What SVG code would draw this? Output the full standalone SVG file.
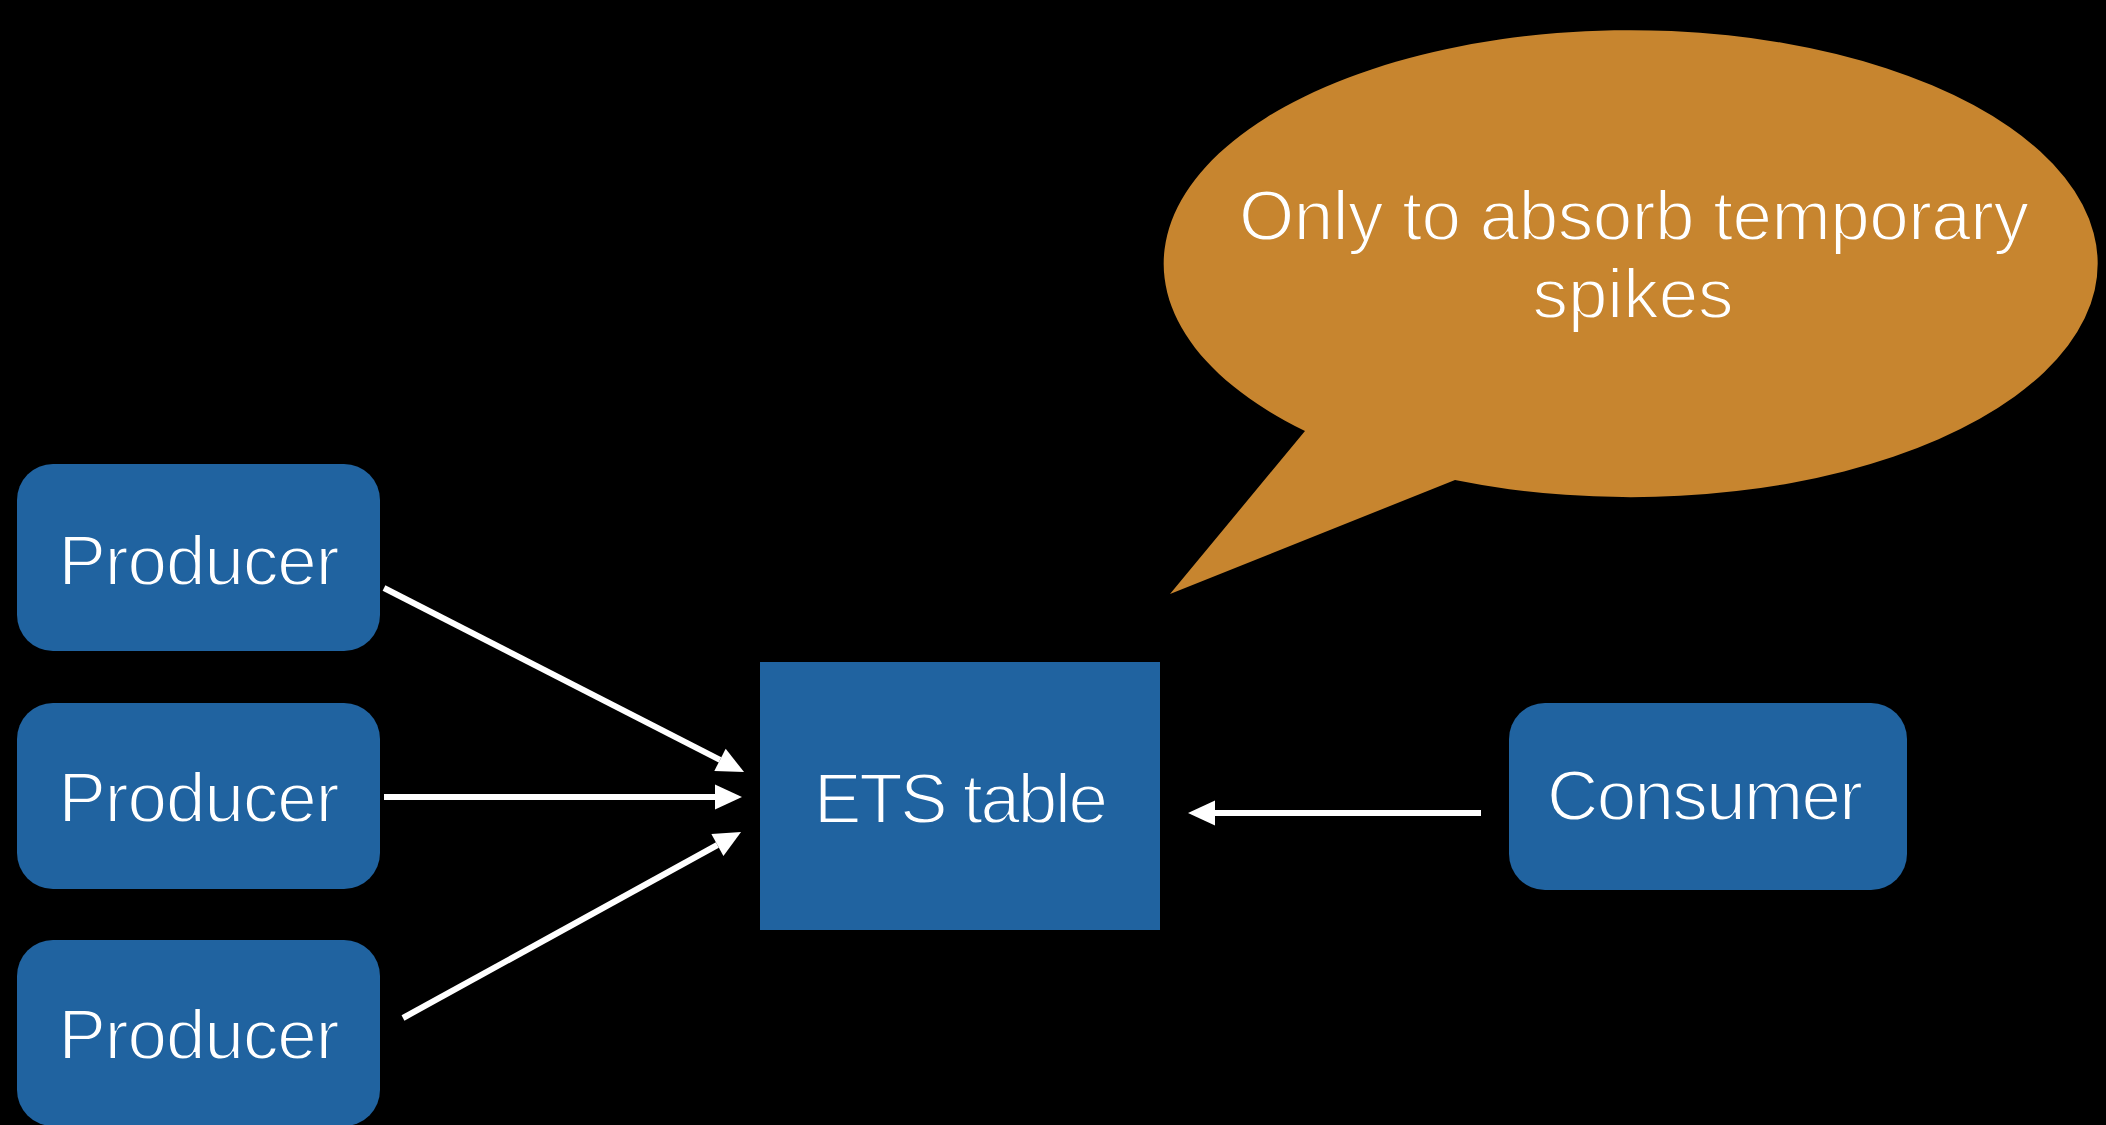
<svg xmlns="http://www.w3.org/2000/svg" width="2106" height="1125" viewBox="0 0 2106 1125">
  <style>
    .box { fill: #2063a0; }
    .bubble { fill: #c7852f; }
    .label { fill: #ffffff; font-family: "Liberation Sans", Arial, sans-serif; font-size: 71px; text-anchor: middle; stroke-width: 1.8; }
    .on-box { stroke: #2063a0; }
    .on-bubble { stroke: #c7852f; }
    .link { stroke: #ffffff; stroke-width: 6; fill: none; marker-end: url(#head); }
  </style>
  <defs>
    <marker id="head" markerUnits="userSpaceOnUse" viewBox="0 -12 26 24" refX="0" refY="0" markerWidth="26" markerHeight="24" orient="auto" overflow="visible">
      <path d="M0,-12.5 L27,0 L0,12.5 Z" fill="#ffffff"/>
    </marker>
  </defs>

  <rect width="2106" height="1125" fill="#000000"/>

  <!-- speech bubble: ellipse with a tail pointing down-left -->
  <g id="note">
    <path class="bubble" d="M1305,431 A467,233.5 0 1 1 1455,480 L1170,594 Z"/>
    <text class="label on-bubble" x="1634" y="240" textLength="790">Only to absorb temporary</text>
    <text class="label on-bubble" x="1633" y="318">spikes</text>
  </g>

  <g id="producer1">
    <rect class="box" x="17" y="464" width="363" height="187" rx="36" ry="36"/>
    <text class="label on-box" x="199" y="585" textLength="281">Producer</text>
  </g>
  <g id="producer2">
    <rect class="box" x="17" y="703" width="363" height="186" rx="36" ry="36"/>
    <text class="label on-box" x="199" y="822" textLength="281">Producer</text>
  </g>
  <g id="producer3">
    <rect class="box" x="17" y="940" width="363" height="186" rx="36" ry="36"/>
    <text class="label on-box" x="199" y="1059" textLength="281">Producer</text>
  </g>

  <g id="ets">
    <rect class="box" x="760" y="662" width="400" height="268"/>
    <text class="label on-box" x="961" y="823" textLength="294">ETS table</text>
  </g>

  <g id="consumer">
    <rect class="box" x="1509" y="703" width="398" height="187" rx="36" ry="36"/>
    <text class="label on-box" x="1705" y="820" textLength="316">Consumer</text>
  </g>

  <g id="connectors">
    <line class="link" x1="384" y1="588" x2="720" y2="759.8"/>
    <line class="link" x1="384" y1="797" x2="715" y2="797"/>
    <line class="link" x1="403" y1="1018" x2="717.4" y2="845"/>
    <line class="link" x1="1481" y1="813" x2="1215" y2="813"/>
  </g>
</svg>
